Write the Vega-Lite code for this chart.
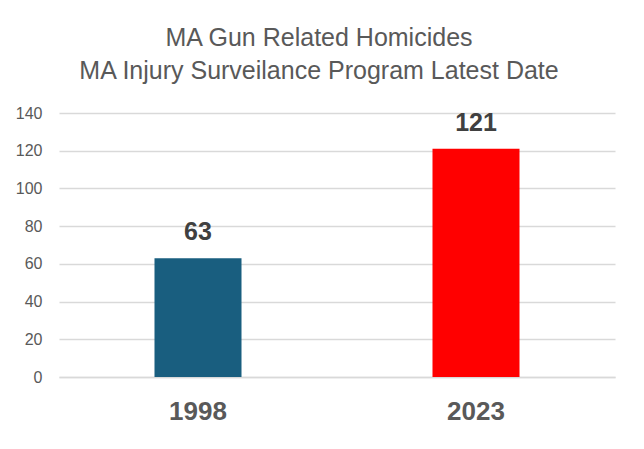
{
  "$schema": "https://vega.github.io/schema/vega-lite/v6.json",
  "width": 556,
  "height": 264,
  "autosize": "none",
  "padding": {"left": 59, "top": 113, "right": 29, "bottom": 72},
  "title": {
    "text": ["MA Gun Related Homicides", "MA Injury Surveilance Program Latest Date"],
    "fontSize": 25,
    "fontWeight": "normal",
    "color": "#595959",
    "font": "Liberation Sans",
    "lineHeight": 33,
    "offset": 21,
    "dx": -18
  },
  "data": {
    "values": [
      {"Year": "1998", "Homicides": 63},
      {"Year": "2023", "Homicides": 121}
    ]
  },
  "encoding": {
    "x": {
      "field": "Year",
      "type": "nominal",
      "title": null,
      "scale": {"paddingInner": 0.687, "paddingOuter": 0.3435},
      "axis": {
        "labelAngle": 0,
        "labelFontSize": 26,
        "labelFontWeight": "bold",
        "labelColor": "#595959",
        "labelFont": "Liberation Sans",
        "labelPadding": 21,
        "ticks": false,
        "domainColor": "#d9d9d9",
        "domainWidth": 1.5
      }
    },
    "y": {
      "field": "Homicides",
      "type": "quantitative",
      "title": null,
      "scale": {"domain": [0, 140]},
      "axis": {
        "values": [0, 20, 40, 60, 80, 100, 120, 140],
        "labelFontSize": 16,
        "labelColor": "#595959",
        "labelFont": "Liberation Sans",
        "labelPadding": 17,
        "ticks": false,
        "domain": false,
        "gridColor": "#d9d9d9",
        "gridWidth": 1.5
      }
    }
  },
  "layer": [
    {
      "mark": {"type": "bar"},
      "encoding": {
        "color": {
          "field": "Year",
          "type": "nominal",
          "scale": {"domain": ["1998", "2023"], "range": ["#195E7F", "#FF0000"]},
          "legend": null
        }
      }
    },
    {
      "mark": {
        "type": "text",
        "baseline": "alphabetic",
        "dy": -18,
        "fontSize": 25,
        "fontWeight": "bold",
        "font": "Liberation Sans",
        "color": "#404040"
      },
      "encoding": {"text": {"field": "Homicides", "type": "quantitative"}}
    }
  ],
  "config": {"view": {"stroke": null}, "background": "white"}
}
